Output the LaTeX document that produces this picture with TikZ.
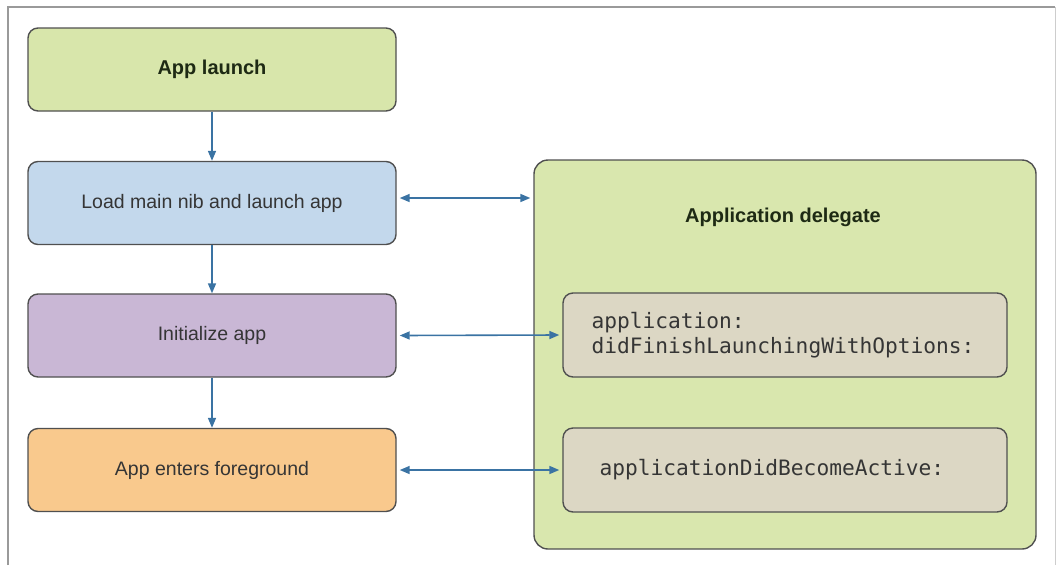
\documentclass[tikz,border=0pt]{standalone}
\usepackage{fontspec}
\setmainfont{Liberation Sans}
\newfontfamily\codefont{DejaVu Sans Mono}
\usetikzlibrary{arrows.meta}
\definecolor{framegray}{HTML}{9A9A9A}
\definecolor{edgegray}{HTML}{505050}
\definecolor{launchgreen}{HTML}{D8E6AB}
\definecolor{loadblue}{HTML}{C3D8EC}
\definecolor{initpurple}{HTML}{C9B7D5}
\definecolor{fgorange}{HTML}{F9C98D}
\definecolor{delegategreen}{HTML}{D9E7AE}
\definecolor{methodtan}{HTML}{DCD7C4}
\definecolor{flowblue}{HTML}{3A73A3}
\definecolor{textgray}{HTML}{353535}
\definecolor{titledark}{HTML}{1E2A14}
\tikzset{
  stagebox/.style={draw=edgegray, line width=1.4pt, rounded corners=10pt,
    minimum width=368pt, minimum height=83pt, inner sep=0pt,
    text=textgray, font=\fontsize{19.5}{23}\selectfont},
  methodbox/.style={draw=edgegray, line width=1.4pt, rounded corners=10pt,
    fill=methodtan, minimum width=444pt, minimum height=84pt, inner sep=0pt},
  flow/.style={draw=flowblue, line width=1.6pt,
    -{Triangle[length=10pt,width=8pt]}},
  link/.style={draw=flowblue, line width=1.6pt,
    {Triangle[length=10pt,width=8pt]}-{Triangle[length=10pt,width=8pt]}},
  titletext/.style={text=titledark, font=\bfseries\fontsize{20}{24}\selectfont},
  codetext/.style={text=textgray, font=\codefont\fontsize{21.2}{25}\selectfont}
}
\begin{document}
\begin{tikzpicture}[x=1pt,y=-1pt]
\useasboundingbox (0,0) rectangle (1056,565);
% outer frame (open at the bottom)
\draw[framegray, line width=1.2pt] (8,565) -- (8,7) -- (1055,7);
\draw[framegray!50, line width=1pt] (1055,7) -- (1055,565);

% lifecycle stages
\node[stagebox, fill=launchgreen, titletext] (launch) at (212,69.5) {App launch};
\node[stagebox, fill=loadblue] (load) at (212,203) {Load main nib and launch app};
\node[stagebox, fill=initpurple] (init) at (212,335.5) {Initialize app};
\node[stagebox, fill=fgorange] (fg) at (212,470) {App enters foreground};

% application delegate container
\node[draw=edgegray, line width=1.4pt, rounded corners=14pt, fill=delegategreen,
      minimum width=502pt, minimum height=389pt, inner sep=0pt] (delegate) at (785,354.5) {};
\node[titletext] (dtitle) at (783,217) {Application delegate};

% delegate methods
\node[methodbox] (m1) at (785,335) {};
\node[methodbox] (m2) at (785,470) {};
\node[codetext, anchor=west, align=left] (m1text) at (588,335.5)
  {application:\\didFinishLaunchingWithOptions:};
\node[codetext, anchor=west] (m2text) at (596,470) {applicationDidBecomeActive:};

% sequence arrows
\draw[flow] (launch.south) -- (load.north);
\draw[flow] (load.south) -- (init.north);
\draw[flow] (init.south) -- (fg.north);

% calls into the delegate
\draw[link] ([xshift=3pt]load.east |- 0,198) -- ([xshift=-3pt]delegate.west |- 0,198);
\draw[link] ([xshift=3pt]init.east) -- ([xshift=-3pt]m1.west);
\draw[link] ([xshift=3pt]fg.east) -- ([xshift=-3pt]m2.west);
\end{tikzpicture}
\end{document}
